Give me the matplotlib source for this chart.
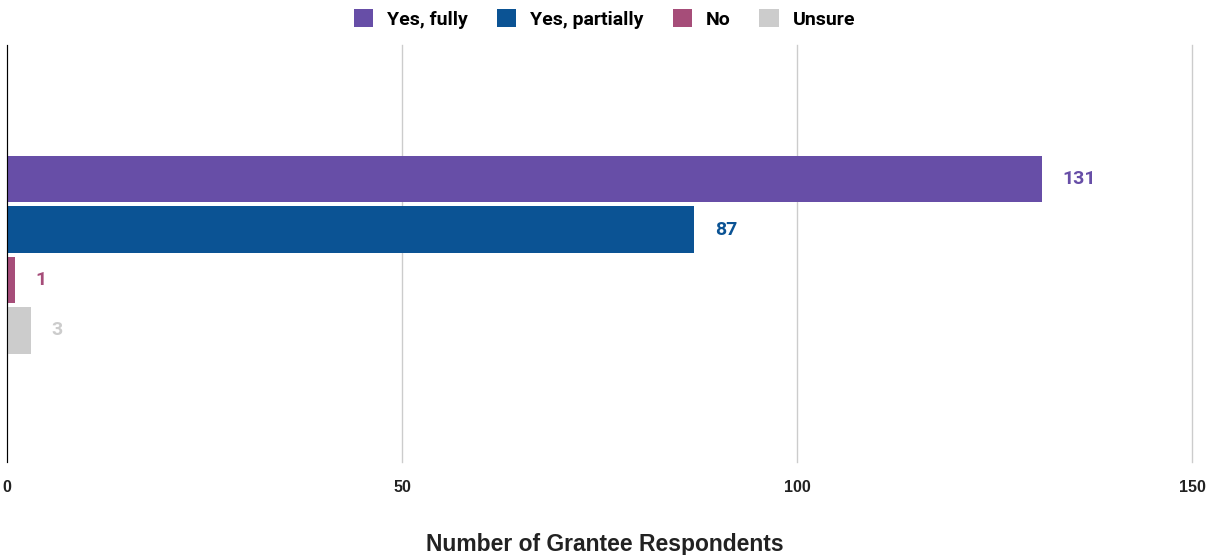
import numpy as np
import matplotlib.pyplot as plt

series = ["Yes, fully", "Yes, partially", "No", "Unsure"]
counts = [131, 87, 1, 3]
colors = ["#674EA7", "#0B5394", "#A64D79", "#CCCCCC"]
x_ticks = [0, 50, 100, 150]

fig = plt.figure(figsize=(12.09, 5.55), dpi=100)
ax = fig.add_axes([7 / 1209, 93 / 555, 1185 / 1209, 417 / 555])

pitch = 0.121
height = 0.112
offsets = (np.arange(len(series)) - 1.5) * pitch + 0.003

for name, val, col, off in zip(series, counts, colors, offsets):
    ax.barh(off, val, height=height, color=col, label=name, zorder=3)
    ax.annotate(str(val), (val, off), xytext=(15, 0), textcoords="offset points",
                va="center", ha="left", color=col, fontsize=14,
                fontweight="bold", family="Roboto")

ax.set_ylim(0.5, -0.5)
ax.set_xlim(0, 150)
ax.set_xticks(x_ticks)
ax.set_yticks([])
ax.grid(axis="x", color="#CCCCCC", linewidth=1, zorder=0)
for gl in ax.get_xgridlines():
    gl.set_clip_on(False)
for s in ["top", "right", "bottom"]:
    ax.spines[s].set_visible(False)
ax.spines["left"].set_color("#000000")
ax.spines["left"].set_zorder(4)
ax.tick_params(axis="x", length=0, pad=13, labelsize=11.5)
for lbl in ax.get_xticklabels():
    lbl.set_family("Liberation Sans")
    lbl.set_fontweight("bold")
    lbl.set_color("#222222")

fig.text(0.5, 1 - 545 / 555, "Number of Grantee Respondents", ha="center", va="center",
         fontsize=16.5, family="Liberation Sans", fontweight="bold", color="#222222")

fig.legend(loc="upper center", bbox_to_anchor=(0.5, 1.015), ncol=4, frameon=False,
           handlelength=1.0, handleheight=1.0, handletextpad=0.7, columnspacing=1.5,
           prop={"family": "Roboto", "weight": "bold", "size": 14})

fig.savefig("out.png", dpi=100)
